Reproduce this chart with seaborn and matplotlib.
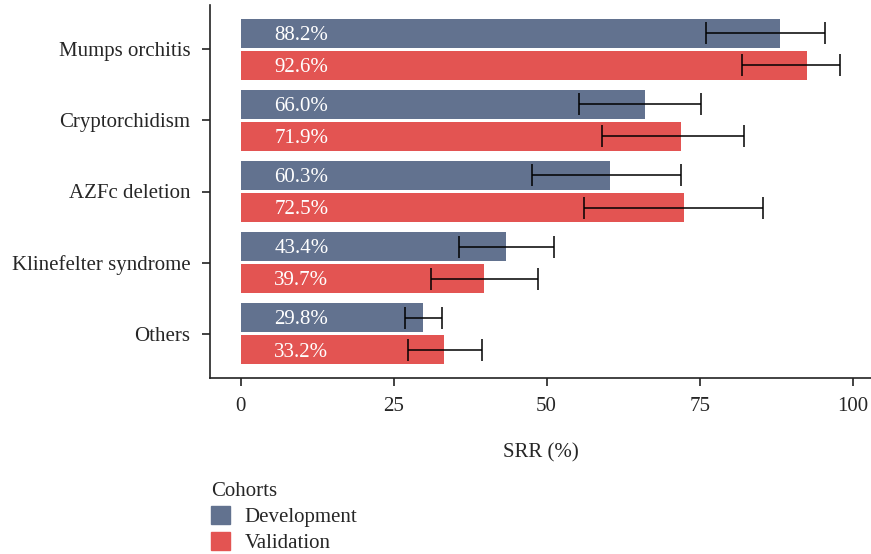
import matplotlib
matplotlib.use("Agg")
import matplotlib.pyplot as plt
import matplotlib.patches as mpatches
import numpy as np
import pandas as pd
import seaborn as sns

categories = ["Mumps orchitis", "Cryptorchidism", "AZFc deletion", "Klinefelter syndrome", "Others"]
cohorts = ["Development", "Validation"]
dev_srr = [88.2, 66.0, 60.3, 43.4, 29.8]
val_srr = [92.6, 71.9, 72.5, 39.7, 33.2]
dev_low = [76.0, 55.3, 47.6, 35.7, 26.9]
dev_high = [95.5, 75.3, 71.9, 51.2, 32.9]
val_low = [82.0, 59.1, 56.1, 31.1, 27.3]
val_high = [97.9, 82.3, 85.3, 48.6, 39.5]
palette = {"Development": "#62728F", "Validation": "#E35452"}

df = pd.DataFrame({
    "category": categories * 2,
    "cohort": ["Development"] * 5 + ["Validation"] * 5,
    "srr": dev_srr + val_srr,
    "low": dev_low + val_low,
    "high": dev_high + val_high,
})

sns.set_style("ticks")
plt.rcParams["font.family"] = ["Liberation Serif", "DejaVu Serif"]
fs = 15
plt.rcParams["font.size"] = fs

fig = plt.figure(figsize=(8.71, 5.54), dpi=100)
ax = fig.add_axes([210 / 871, 1 - 378 / 554, 1 - 210 / 871, 373 / 554])

sns.barplot(data=df, y="category", x="srr", hue="cohort", order=categories,
            hue_order=cohorts, palette=palette, width=0.9, gap=0.1,
            orient="h", errorbar=None, legend=False, ax=ax, saturation=1,
            linewidth=0)

# error bars and value labels, positioned from the drawn bars
for cont, coh in zip(ax.containers, cohorts):
    sub = df[df["cohort"] == coh].set_index("category").loc[categories]
    ys = [p.get_y() + p.get_height() / 2 for p in cont.patches]
    xs = sub["srr"].values
    err = np.vstack([xs - sub["low"].values, sub["high"].values - xs])
    ax.errorbar(xs, ys, xerr=err, fmt="none", ecolor="black", elinewidth=1.1,
                capsize=8, capthick=1.1)
    for y, v in zip(ys, xs):
        ax.text(5.5, y + 0.03, f"{v:.1f}%", color="white", ha="left", va="center",
                fontsize=fs)

ax.set_xlim(-5, 103)
ax.set_ylim(4.62, -0.62)
ax.set_xticks([0, 25, 50, 75, 100])
ax.set_xlabel("SRR (%)", labelpad=19)
ax.set_ylabel("")
sns.despine(ax=ax, top=True, right=True)
for s in ["left", "bottom"]:
    ax.spines[s].set_linewidth(1.2)
    ax.spines[s].set_color("#222222")
ax.tick_params(axis="both", length=6, width=1.2, color="#222222", labelsize=fs)
ax.tick_params(axis="x", pad=8)
ax.tick_params(axis="y", pad=8)

handles = [mpatches.Patch(color=palette[c], label=c) for c in cohorts]
leg = fig.legend(handles=handles, title="Cohorts", loc="upper left",
                 bbox_to_anchor=(207 / 871, 1 - 478 / 554), frameon=False,
                 fontsize=fs, title_fontsize=fs, handlelength=0.9,
                 handleheight=0.9, handletextpad=0.7, labelspacing=0.25,
                 borderaxespad=0, borderpad=0.2)
leg._legend_box.align = "left"

fig.savefig("out.png", dpi=100)
